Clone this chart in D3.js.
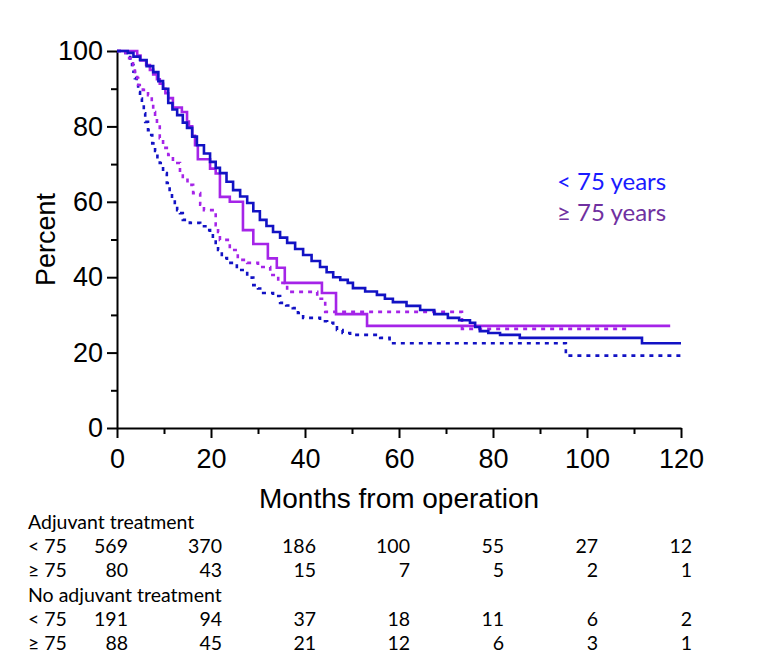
<!DOCTYPE html>
<html>
<head>
<meta charset="utf-8">
<script src="https://cdn.jsdelivr.net/npm/d3@7"></script>
<style>
  body { margin: 0; background: #fff; }
  svg { display: block; }
</style>
</head>
<body>
<svg id="chart" width="772" height="655"></svg>
<script>
// ---- Data ----
const yTicks = [0, 20, 40, 60, 80, 100];
const yMinorTicks = [10, 30, 50, 70, 90];
const xTicks = [0, 20, 40, 60, 80, 100, 120];
const xMinorTicks = [10, 30, 50, 70, 90, 110];

// Adjuvant treatment, < 75 years (solid blue)
const adjYoung = [[0,100],[2.3,99.5],[3.5,98.5],[4.9,97.6],[6.3,96],[7.7,94.4],[8.8,92],[9.8,90],[10.9,86.2],[11.8,84.5],[12.8,83],[14,81],[14.9,79.6],[16,77.3],[17,75],[18.5,72.8],[19.8,70.6],[21,69],[21.9,67.6],[23.3,65.3],[24.7,63.1],[26.2,61.4],[27.7,59.7],[29,57.5],[30.4,55.2],[31.8,53.6],[33.2,52],[34.7,50.5],[36.2,49.1],[37.9,47.5],[39.6,45.9],[41.4,44.3],[43.2,42.7],[44.6,41.3],[46,40],[47.5,39.3],[49.1,38.5],[50.2,37.1],[52.8,36.2],[55.3,35.3],[57,34.3],[58.7,33.4],[61.6,32.4],[64.5,31.3],[67.5,30.2],[70.4,29.2],[72.8,28.6],[75.1,27.9],[76.2,26.8],[77.2,25.7],[79,25.2],[81.5,24.7],[85.7,23.9],[111.7,22.5],[120,22.5]];

// Adjuvant treatment, >= 75 years (solid purple)
const adjOld = [[0,100],[4.3,98.8],[5,97.5],[6.2,96.3],[7,95],[7.7,93.8],[8.5,92.5],[9.1,91.3],[9.8,90],[10.3,88.8],[10.9,87.5],[11.9,85],[13.8,83.8],[14.9,81.3],[15.3,80],[16,77.5],[16.6,75],[17.2,71.3],[19.8,68.8],[21,67.5],[21.9,61.3],[24,60],[26.8,52.5],[29,48.8],[32.1,45],[34,42.5],[35.7,38.5],[43.6,35.8],[46.6,30.2],[53.2,27.1],[117.7,27.1]];

// No adjuvant treatment, < 75 years (dotted blue)
const noAdjYoung = [[0,100],[1.5,99.5],[2.3,98.9],[2.8,97.5],[3.2,96.3],[3.5,94.5],[3.8,92.8],[4.2,91],[4.5,89.1],[4.9,87.4],[5.3,85.7],[5.7,83.5],[6,81.2],[6.6,79],[7,77.7],[7.5,75.5],[8.1,73.5],[8.6,71.8],[9.1,70.3],[9.8,67.6],[10.6,65],[11.2,62.5],[11.7,60.5],[12.3,59],[12.8,57.8],[13.4,57],[14,55.2],[15.5,54.4],[17.7,53.5],[19.1,52.5],[19.8,51.5],[20.4,49.9],[21,48.5],[21.5,47.2],[22.3,45.1],[23.4,43.8],[25.5,41.9],[27.7,39.9],[29,37.9],[30,37],[31.1,35.8],[33.2,35],[34.7,33.2],[36,32.5],[37.4,31.8],[38.5,30.5],[39.6,29.2],[43.2,28.3],[44.7,27.9],[46,27.3],[46.8,26],[48,25.2],[49.6,24.7],[56,23.9],[58,22.5],[95.5,19.2],[120,19.2]];

// No adjuvant treatment, >= 75 years (dotted purple)
const noAdjOld = [[0,100],[1.1,99.5],[2.3,98.1],[3.4,96.3],[3.8,94.5],[4.3,92.8],[4.5,91],[5.5,89.7],[6.6,88.3],[7.4,86.2],[7.7,83.8],[8.1,82],[8.5,80.4],[9.1,76.9],[9.8,74.3],[10.9,72.4],[11.9,70.3],[13.4,67.6],[14,66.6],[15,64.5],[16.2,62.3],[17.7,59.2],[18.5,57.8],[21,53.8],[21.5,52],[21.9,49.9],[24,47.2],[25.7,44.6],[27.7,43.8],[30,42.7],[32.6,40.6],[34.3,38.5],[36.2,36.1],[42.6,34.3],[44.3,30.8],[73.4,26.3],[108.7,26.3]];

const legendLabels = ["< 75 years", "\u2265 75 years"];

// Numbers at risk
const riskTimes = [0, 20, 40, 60, 80, 100, 120];
const riskGroups = ["Adjuvant treatment", "No adjuvant treatment"];
const riskRowLabels = ["< 75", "\u2265 75"];
const riskAdjYoung = [569, 370, 186, 100, 55, 27, 12];
const riskAdjOld = [80, 43, 15, 7, 5, 2, 1];
const riskNoAdjYoung = [191, 94, 37, 18, 11, 6, 2];
const riskNoAdjOld = [88, 45, 21, 12, 6, 3, 1];

// ---- Drawing ----
const svg = d3.select("#chart");
const x = d3.scaleLinear().domain([0, 120]).range([117, 681]);
const y = d3.scaleLinear().domain([0, 100]).range([428, 51]);

const axisFont = "'Liberation Sans', Arial, sans-serif";
const textFont = "Lato, 'Open Sans', sans-serif";

const BLUE = "#1212c4";
const PURPLE = "#a524e8";

// Y axis
svg.append("g").attr("class", "yaxis").attr("transform", `translate(${x(0)},0)`)
  .call(d3.axisLeft(y).tickValues(yTicks).tickSize(10).tickSizeOuter(0).tickPadding(4));
svg.append("g").attr("transform", `translate(${x(0)},0)`)
  .call(d3.axisLeft(y).tickValues(yMinorTicks).tickSize(6).tickFormat(""))
  .call(g => g.select(".domain").remove());

// X axis
svg.append("g").attr("class", "xaxis").attr("transform", `translate(0,${y(0)})`)
  .call(d3.axisBottom(x).tickValues(xTicks).tickSize(10).tickSizeOuter(0).tickPadding(11));
svg.append("g").attr("transform", `translate(0,${y(0)})`)
  .call(d3.axisBottom(x).tickValues(xMinorTicks).tickSize(6).tickFormat(""))
  .call(g => g.select(".domain").remove());

svg.selectAll(".tick line").attr("stroke", "#000").attr("stroke-width", 2);
svg.selectAll(".domain").attr("stroke", "#000").attr("stroke-width", 2);
svg.selectAll(".tick text").attr("font-family", axisFont).attr("font-size", 27).attr("fill", "#000");

// Axis titles
svg.append("text")
  .attr("transform", `translate(55,${(y(0) + y(100)) / 2}) rotate(-90)`)
  .attr("text-anchor", "middle")
  .attr("font-family", axisFont).attr("font-size", 27)
  .text("Percent");
svg.append("text")
  .attr("x", (x(0) + x(120)) / 2).attr("y", 508)
  .attr("text-anchor", "middle")
  .attr("font-family", axisFont).attr("font-size", 28)
  .text("Months from operation");

// Curves
const line = d3.line().x(d => x(d[0])).y(d => y(d[1])).curve(d3.curveStepAfter);
const curves = [
  { data: noAdjYoung, color: BLUE, dash: "4,5" },
  { data: noAdjOld, color: PURPLE, dash: "4,5" },
  { data: adjOld, color: PURPLE, dash: null },
  { data: adjYoung, color: BLUE, dash: null }
];
svg.append("g").selectAll("path").data(curves).join("path")
  .attr("d", c => line(c.data))
  .attr("fill", "none")
  .attr("stroke", c => c.color)
  .attr("stroke-width", 2.6)
  .attr("stroke-dasharray", c => c.dash);

// Legend
const legendColors = ["#1a1aff", "#7030a0"];
svg.append("g").selectAll("text").data(legendLabels).join("text")
  .attr("x", 557).attr("y", (d, i) => 190 + i * 31)
  .attr("font-family", textFont).attr("font-size", 24)
  .attr("fill", (d, i) => legendColors[i])
  .text(d => d);

// Risk table
const tbl = svg.append("g").attr("font-family", textFont).attr("font-size", 19.5).attr("fill", "#000");
const rows = [
  { type: "group", label: riskGroups[0] },
  { type: "row", label: riskRowLabels[0], values: riskAdjYoung },
  { type: "row", label: riskRowLabels[1], values: riskAdjOld },
  { type: "group", label: riskGroups[1] },
  { type: "row", label: riskRowLabels[0], values: riskNoAdjYoung },
  { type: "row", label: riskRowLabels[1], values: riskNoAdjOld }
];
rows.forEach((r, i) => {
  const yy = 529 + i * 24.2;
  tbl.append("text").attr("x", 28).attr("y", yy).text(r.label);
  if (r.type === "row") {
    r.values.forEach((v, j) => {
      tbl.append("text")
        .attr("x", x(riskTimes[j]) + 11).attr("y", yy)
        .attr("text-anchor", "end")
        .text(v);
    });
  }
});
</script>
</body>
</html>
